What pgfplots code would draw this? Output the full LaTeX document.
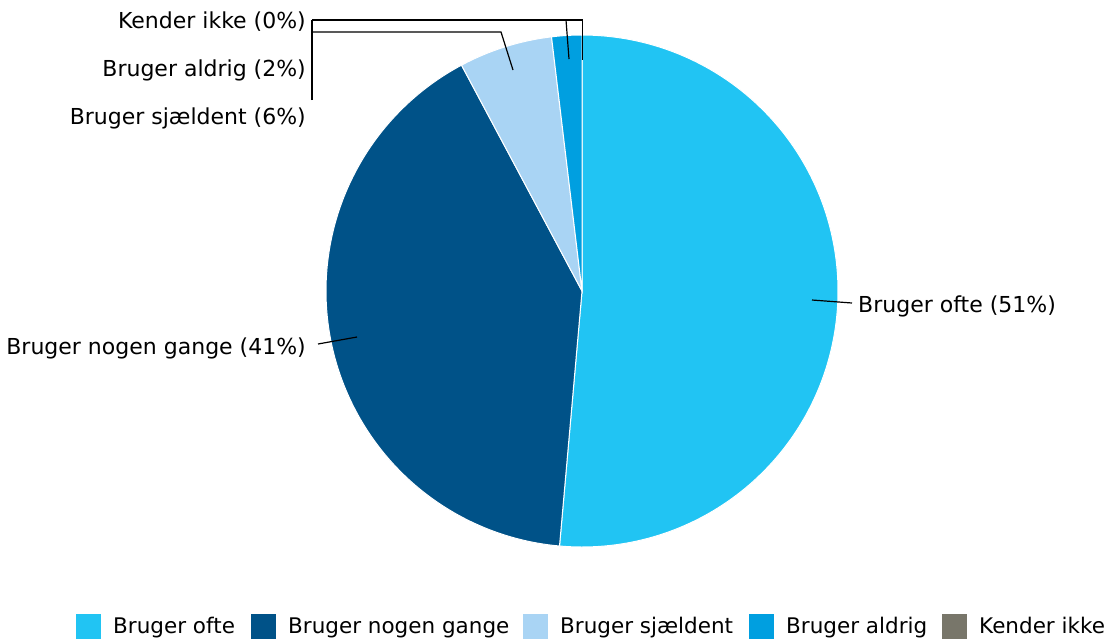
\documentclass[border=0pt]{standalone}
\usepackage{fontspec}
\setmainfont{DejaVu Sans}
\usepackage{pgfplots}
\pgfplotsset{compat=1.18}
\definecolor{cOfte}{HTML}{21C4F3}
\definecolor{cNogen}{HTML}{005288}
\definecolor{cSjaeld}{HTML}{A9D4F4}
\definecolor{cAldrig}{HTML}{009FE0}
\definecolor{cKender}{HTML}{78766A}
% shares in percent
\def\vOfte{51.4}
\def\vNogen{40.8}
\def\vSjaeld{5.9}
\def\vAldrig{1.9}
\def\vKender{0}
\pgfmathsetmacro\aA{90}
\pgfmathsetmacro\aB{\aA-3.6*\vOfte}
\pgfmathsetmacro\aC{\aB-3.6*\vNogen}
\pgfmathsetmacro\aD{\aC-3.6*\vSjaeld}
\pgfmathsetmacro\aE{\aD-3.6*\vAldrig}
\newcommand{\lblfont}{\fontsize{22}{26}\selectfont}
\newcommand{\legfont}{\fontsize{21.5}{25}\selectfont}
\begin{document}
\begin{tikzpicture}
\begin{axis}[
  scale only axis, x=1pt, y=1pt,
  xmin=0, xmax=1111, ymin=0, ymax=641,
  y dir=reverse, hide axis, clip=false,
  legend columns=5,
  legend style={draw=none, fill=none, inner sep=0pt,
    at={(axis cs:76,626)}, anchor=west, font=\legfont,
    nodes={inner xsep=0pt},
    /tikz/every odd column/.append style={column sep=12pt},
    /tikz/every even column/.append style={column sep=0pt}},
  legend cell align=left,
  legend image code/.code={\path[#1,draw=none] (0pt,-12.5pt) rectangle (25pt,12.5pt);},
]
\addplot[fill=cOfte, draw=white, line width=1pt, domain=\aB:\aA, samples=150, variable=\t]
  ({582+256*cos(\t)},{291-256*sin(\t)}) -- (axis cs:582,291) -- cycle;
\addlegendentry{\makebox[138pt][l]{Bruger ofte}}
\addplot[fill=cNogen, draw=white, line width=1pt, domain=\aC:\aB, samples=150, variable=\t]
  ({582+256*cos(\t)},{291-256*sin(\t)}) -- (axis cs:582,291) -- cycle;
\addlegendentry{\makebox[235pt][l]{Bruger nogen gange}}
\addplot[fill=cSjaeld, draw=white, line width=1pt, domain=\aD:\aC, samples=30, variable=\t]
  ({582+256*cos(\t)},{291-256*sin(\t)}) -- (axis cs:582,291) -- cycle;
\addlegendentry{\makebox[189pt][l]{Bruger sjældent}}
\addplot[fill=cAldrig, draw=white, line width=1pt, domain=\aE:\aD, samples=15, variable=\t]
  ({582+256*cos(\t)},{291-256*sin(\t)}) -- (axis cs:582,291) -- cycle;
\addlegendentry{\makebox[156pt][l]{Bruger aldrig}}
\addlegendimage{fill=cKender, draw=none}
\addlegendentry{Kender ikke}
% leader lines
\draw[black, line width=1.2pt] (axis cs:812,300) -- (axis cs:852,303);
\draw[black, line width=1.2pt] (axis cs:357,337) -- (axis cs:318,344);
\draw[black, line width=1.2pt] (axis cs:312,20) -- (axis cs:582.5,20) -- (axis cs:582.5,60);
\draw[black, line width=1.2pt] (axis cs:312,100) -- (axis cs:312,20);
\draw[black, line width=1.2pt] (axis cs:566,20) -- (axis cs:569,59);
\draw[black, line width=1.2pt] (axis cs:312,32) -- (axis cs:501,32) -- (axis cs:513,70);
% labels
\node[anchor=west, font=\lblfont, inner sep=0pt] at (axis cs:858,306) {Bruger ofte (51\%)};
\node[anchor=east, font=\lblfont, inner sep=0pt] at (axis cs:306,348) {Bruger nogen gange (41\%)};
\node[anchor=east, font=\lblfont, inner sep=0pt] at (axis cs:306,22) {Kender ikke (0\%)};
\node[anchor=east, font=\lblfont, inner sep=0pt] at (axis cs:306,70) {Bruger aldrig (2\%)};
\node[anchor=east, font=\lblfont, inner sep=0pt] at (axis cs:306,118) {Bruger sjældent (6\%)};
\end{axis}
\pgfresetboundingbox
\path[use as bounding box] (current axis.south west) rectangle (current axis.north east);
\end{tikzpicture}
\end{document}
